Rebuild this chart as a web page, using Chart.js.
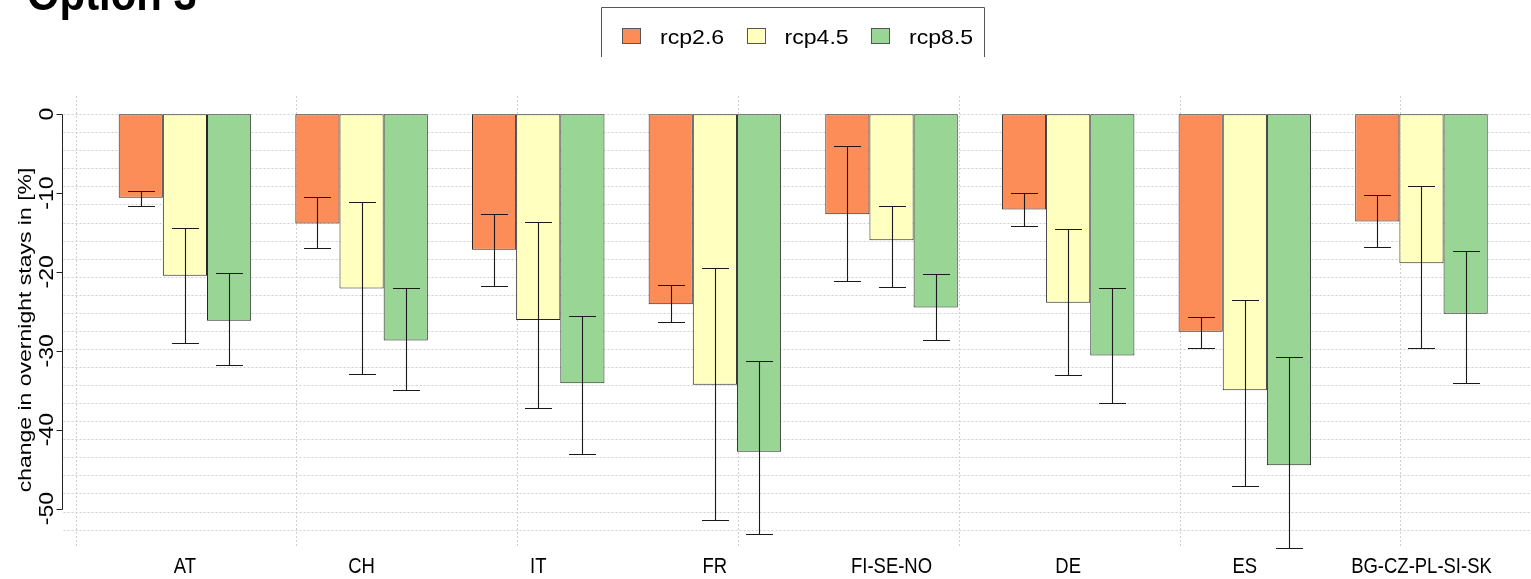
<!DOCTYPE html>
<html>
<head>
<meta charset="utf-8">
<script src="https://cdn.jsdelivr.net/npm/chart.js@4/dist/chart.umd.min.js"></script>
<style>
html,body{margin:0;padding:0;background:#fff;}
#wrap{position:relative;width:1531px;height:579px;overflow:hidden;}
canvas{display:block;}
</style>
</head>
<body>
<div id="wrap"><canvas id="c" width="1531" height="579"></canvas></div>
<script>
// ---- data ----
const titleText = 'Option 3';
const yAxisTitle = 'change in overnight stays in [%]';
const categories = ['AT', 'CH', 'IT', 'FR', 'FI-SE-NO', 'DE', 'ES', 'BG-CZ-PL-SI-SK'];
const seriesNames = ['rcp2.6', 'rcp4.5', 'rcp8.5'];
const seriesColors = ['#FC8D59', '#FFFFBF', '#99D594'];
const yTicks = [0, -10, -20, -30, -40, -50];

const rcp26 = [-10.6, -13.85, -17.2, -24.1, -12.7, -12.1, -27.6, -13.6];
const rcp26ErrTop = [-9.7, -10.55, -12.7, -21.7, -4.1, -10.05, -25.7, -10.2];
const rcp26ErrBottom = [-11.7, -17.0, -21.8, -26.4, -21.2, -14.2, -29.7, -16.85];

const rcp45 = [-20.5, -22.1, -26.1, -34.3, -16.0, -23.9, -35.0, -18.9];
const rcp45ErrTop = [-14.4, -11.15, -13.7, -19.5, -11.7, -14.5, -23.6, -9.1];
const rcp45ErrBottom = [-29.0, -32.9, -37.3, -51.4, -21.9, -33.1, -47.2, -29.7];

const rcp85 = [-26.2, -28.7, -34.1, -42.8, -24.5, -30.6, -44.5, -25.3];
const rcp85ErrTop = [-20.2, -22.0, -25.6, -31.3, -20.3, -22.1, -30.8, -17.3];
const rcp85ErrBottom = [-31.8, -35.0, -43.1, -53.2, -28.6, -36.65, -55.0, -34.1];

const seriesValues = [rcp26, rcp45, rcp85];
const seriesErrTop = [rcp26ErrTop, rcp45ErrTop, rcp85ErrTop];
const seriesErrBottom = [rcp26ErrBottom, rcp45ErrBottom, rcp85ErrBottom];

// ---- helpers ----
function drawScaledText(ctx, text, x, y, opts) {
  ctx.save();
  ctx.font = opts.font;
  ctx.fillStyle = opts.color || '#000';
  ctx.textAlign = opts.align || 'left';
  ctx.textBaseline = opts.baseline || 'alphabetic';
  ctx.translate(x, y);
  if (opts.rotate) {
    ctx.rotate(opts.rotate);
    ctx.scale(1, opts.sx || 1);
  } else {
    ctx.scale(opts.sx || 1, 1);
  }
  ctx.fillText(text, 0, 0);
  ctx.restore();
}

const decorPlugin = {
  id: 'decor',
  beforeDatasetsDraw(chart) {
    const ctx = chart.ctx;
    const xs = chart.scales.x, ys = chart.scales.y;
    const area = chart.chartArea;
    const slot = (xs.right - xs.left) / categories.length / 4;
    ctx.save();
    ctx.strokeStyle = '#cfcfcf';
    ctx.lineWidth = 1;
    ctx.setLineDash([2, 2]);
    // horizontal grid lines
    const gridStep = 2.29;
    for (let k = 0; k <= 23; k++) {
      const y = Math.round(ys.getPixelForValue(-k * gridStep)) + 0.5;
      ctx.beginPath();
      ctx.moveTo(63.5, y);
      ctx.lineTo(1531, y);
      ctx.stroke();
    }
    // vertical grid lines
    for (let s = 0; s <= 30; s += 5) {
      const x = Math.round(xs.left + (s - 0.5) * slot) + 1.5;
      ctx.beginPath();
      ctx.moveTo(x, area.top);
      ctx.lineTo(x, area.bottom);
      ctx.stroke();
    }
    ctx.restore();
  },
  afterDatasetsDraw(chart) {
    const ctx = chart.ctx;
    const xs = chart.scales.x, ys = chart.scales.y;
    // error bars
    ctx.save();
    ctx.strokeStyle = '#1a1a1a';
    ctx.lineWidth = 1.1;
    for (let d = 0; d < seriesValues.length; d++) {
      const meta = chart.getDatasetMeta(d);
      meta.data.forEach((el, i) => {
        const x = Math.round(el.x) + 0.5;
        const yT = Math.round(ys.getPixelForValue(seriesErrTop[d][i])) + 0.5;
        const yB = Math.round(ys.getPixelForValue(seriesErrBottom[d][i])) + 0.5;
        ctx.beginPath();
        ctx.moveTo(x, yT); ctx.lineTo(x, yB);
        ctx.moveTo(x - 13.5, yT); ctx.lineTo(x + 13.5, yT);
        ctx.moveTo(x - 13.5, yB); ctx.lineTo(x + 13.5, yB);
        ctx.stroke();
      });
    }
    ctx.restore();

    // y axis (R style)
    ctx.save();
    ctx.strokeStyle = '#222';
    ctx.lineWidth = 1;
    const axX = 62.5;
    const y0 = Math.round(ys.getPixelForValue(yTicks[0])) + 0.5;
    const y1 = Math.round(ys.getPixelForValue(yTicks[yTicks.length - 1])) + 0.5;
    ctx.beginPath();
    ctx.moveTo(axX, y0); ctx.lineTo(axX, y1);
    yTicks.forEach(v => {
      const y = Math.round(ys.getPixelForValue(v)) + 0.5;
      ctx.moveTo(axX - 6, y); ctx.lineTo(axX, y);
    });
    ctx.stroke();
    ctx.restore();
    yTicks.forEach(v => {
      const y = ys.getPixelForValue(v);
      drawScaledText(ctx, String(v), 53, y, {font: '23px "Liberation Sans", Arial, sans-serif', align: 'center', baseline: 'alphabetic', rotate: -Math.PI / 2, sx: 0.86});
    });
    // y axis title
    drawScaledText(ctx, yAxisTitle, 30.5, 330, {font: '23px "Liberation Sans", Arial, sans-serif', align: 'center', baseline: 'alphabetic', rotate: -Math.PI / 2, sx: 0.78});

    // x labels
    categories.forEach((c, i) => {
      const x = xs.getPixelForTick(i);
      drawScaledText(ctx, c, x, 573, {font: '22px "Liberation Sans", Arial, sans-serif', align: 'center', sx: 0.84});
    });

    // legend box
    ctx.save();
    ctx.strokeStyle = '#555';
    ctx.lineWidth = 1;
    ctx.beginPath();
    ctx.moveTo(601.5, 57); ctx.lineTo(601.5, 7.5); ctx.lineTo(984.5, 7.5); ctx.lineTo(984.5, 57);
    ctx.stroke();
    ctx.restore();
    seriesNames.forEach((n, i) => {
      const bx = 622 + i * 124.5;
      ctx.save();
      ctx.fillStyle = seriesColors[i];
      ctx.fillRect(bx, 28.5, 18, 15);
      ctx.strokeStyle = '#555';
      ctx.lineWidth = 1;
      ctx.strokeRect(Math.round(bx) + 0.5, 28.5, 18, 15);
      ctx.restore();
      drawScaledText(ctx, n, bx + 38, 44, {font: '21px "Liberation Sans", Arial, sans-serif', sx: 1.1});
    });

    // title (cut off at the top)
    drawScaledText(ctx, titleText, 27, 10, {font: 'bold 46px "Liberation Sans", Arial, sans-serif', sx: 0.91});
  }
};

const datasets = seriesNames.map((n, d) => ({
  label: n,
  data: seriesValues[d],
  backgroundColor: seriesColors[d],
  borderColor: '#262626',
  borderWidth: 1,
  borderSkipped: false,
  categoryPercentage: 0.75,
  barPercentage: 1.0
}));

new Chart(document.getElementById('c'), {
  type: 'bar',
  data: { labels: categories, datasets },
  options: {
    responsive: false,
    animation: false,
    devicePixelRatio: 1,
    layout: { padding: { left: 96.6, right: 21.2, top: 96, bottom: 31 } },
    scales: {
      x: { type: 'category', display: false, offset: true },
      y: { type: 'linear', display: false, min: -55, max: 2.3 }
    },
    plugins: { legend: { display: false }, tooltip: { enabled: false }, title: { display: false } }
  },
  plugins: [decorPlugin]
});
</script>
</body>
</html>
